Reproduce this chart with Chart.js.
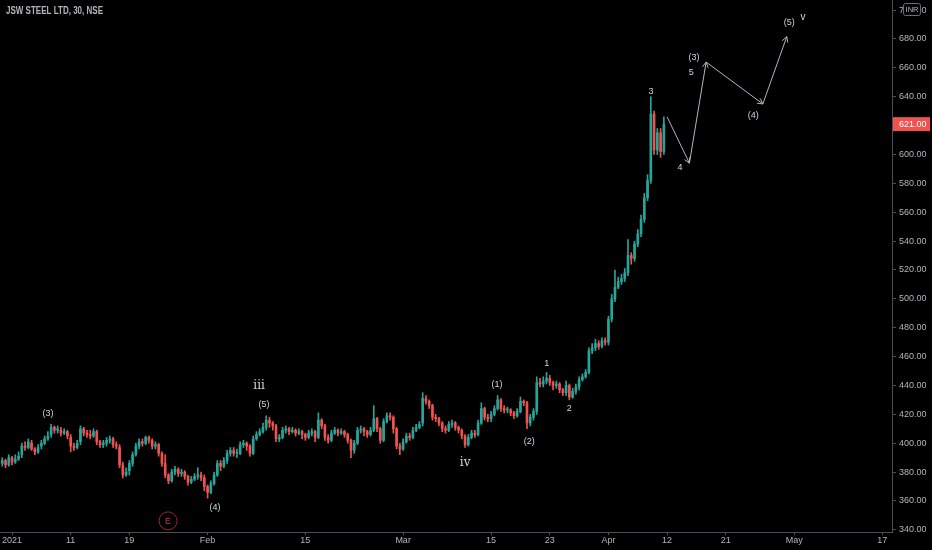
<!DOCTYPE html>
<html>
<head>
<meta charset="utf-8">
<script src="https://cdn.jsdelivr.net/npm/chart.js@4.4.1/dist/chart.umd.min.js"></script>
<style>
    html, body { margin: 0; padding: 0; background: #000; overflow: hidden; }
    #chart { display: block; }
</style>
</head>
<body>
<canvas id="chart" width="932" height="550"></canvas>
<script>
// JSW STEEL LTD, 30 min, NSE - 3 candles per trading day, first 3 are 31 Dec 2020
const firstSlot = -3;
const opens = [386,388,385,
    390,387,389, 392,398,397, 400,396,394, 398,400,403, 406,411,409, 409,407,408, 404,398,397, 401,410,407, 406,405,408, 401,399,400,
    402,403,399, 397,385,378, 381,386,392, 398,401,400, 404,402,398, 399,393,386, 378,374,380, 382,379,380, 377,373,375, 377,378,376,
    370,366,372, 378,386,384, 388,393,395, 393,393,399, 400,398,393, 403,406,408, 411,416,414, 412,403,404, 409,410,408, 409,407,408,
    406,404,407, 408,404,416, 412,404,402, 407,409,407, 408,406,402, 395,400,409, 410,408,406, 409,417,410, 402,415,419, 418,410,398,
    396,401,405, 404,409,411, 414,431,429, 426,418,417, 414,410,409, 413,414,411, 409,405,399, 404,407,406, 414,424,418,
    417,420,424, 430,424,423, 423,421,419, 422,429,428, 414,418,422, 442,441,443,
    445,442,440, 441,437,435, 440,432,436, 439,444,446, 449,464,466, 469,467,471,
    470,486,500, 508,512,514, 518,530,528, 538,545,555, 570,582,628, 603,615,602];
const highs = [390,389,392,
    391,392,394, 400,401,403, 402,397,399, 402,405,408, 413,412,412, 411,410,409, 406,400,402, 412,411,409, 409,410,409, 402,402,404,
    405,404,401, 399,387,383, 388,394,400, 403,403,405, 405,403,401, 400,394,392, 379,382,384, 383,382,381, 378,377,379, 383,380,378,
    371,374,380, 388,388,390, 395,397,397, 396,401,402, 401,399,405, 408,410,414, 419,418,415, 413,406,411, 412,411,411, 410,410,409,
    407,409,410, 409,421,417, 413,406,409, 411,410,410, 409,407,403, 402,411,412, 411,409,411, 426,418,411, 417,421,421, 419,411,400,
    403,407,407, 411,413,415, 435,433,430, 427,420,418, 415,412,415, 416,415,412, 410,406,406, 409,409,416, 428,425,420,
    422,426,433, 431,426,425, 424,422,424, 432,430,429, 420,424,446, 445,446,449,
    447,443,443, 442,438,443, 441,438,441, 446,448,451, 466,469,472, 471,473,473,
    488,503,520, 515,517,521, 541,532,540, 548,558,573, 586,640,630, 618,618,626];
const lows = [384,383,384,
    385,386,388, 390,395,396, 395,392,393, 396,399,402, 404,407,407, 405,406,403, 394,395,396, 399,405,404, 403,404,399, 397,397,398,
    400,397,396, 383,376,377, 378,384,391, 396,398,399, 400,396,396, 391,384,376, 372,373,378, 377,377,375, 371,372,374, 375,374,367,
    362,365,371, 377,381,383, 386,391,391, 390,392,397, 395,391,392, 402,405,407, 409,411,409, 401,401,403, 407,406,407, 405,406,403,
    402,403,405, 401,403,410, 402,400,401, 406,405,406, 404,400,390, 393,399,407, 405,404,405, 408,408,400, 401,414,416, 407,396,392,
    395,400,402, 403,408,410, 412,427,424, 416,415,412, 408,407,408, 411,409,407, 403,397,398, 403,404,405, 413,416,415,
    415,419,423, 422,421,421, 419,417,418, 421,426,410, 412,416,420, 439,439,441,
    440,437,438, 435,433,433, 430,431,434, 437,443,445, 448,462,464, 465,466,468,
    468,484,498, 507,510,512, 516,524,526, 536,543,553, 568,580,600, 600,598,600];
const closes = [388,385,390,
    387,389,391, 398,397,401, 396,394,397, 400,403,405, 411,409,410, 407,408,405, 398,397,400, 410,407,406, 405,408,401, 399,400,402,
    403,399,398, 385,378,380, 386,392,398, 401,400,404, 402,398,399, 393,386,378, 374,380,382, 379,380,377, 373,375,377, 378,376,370,
    366,372,378, 386,384,388, 393,395,393, 393,399,400, 398,393,403, 406,408,411, 416,414,412, 403,404,409, 410,408,409, 407,408,406,
    404,407,408, 404,416,412, 404,402,407, 409,407,408, 406,402,395, 400,409,410, 408,406,409, 417,410,402, 415,419,418, 410,398,396,
    401,405,404, 409,411,413, 431,429,426, 418,417,414, 410,409,413, 414,411,409, 405,399,404, 407,406,414, 424,418,417,
    420,424,430, 424,423,423, 421,419,422, 429,428,414, 418,422,442, 441,443,445,
    442,440,441, 437,435,440, 432,436,439, 444,446,449, 464,466,469, 467,471,470,
    486,500,508, 512,514,518, 530,528,538, 545,555,570, 582,628,603, 615,602,621];

// time axis in trading-day units (0 = 1 Jan 2021)
const dateTicks = [0, 6, 12, 20, 30, 40, 49, 55, 61, 67, 73, 80, 89];
const dateLabels = ['2021', '11', '19', 'Feb', '15', 'Mar', '15', '23', 'Apr', '12', '21', 'May', '17'];
const priceTicks = [340, 360, 380, 400, 420, 440, 460, 480, 500, 520, 540, 560, 580, 600, 620, 640, 660, 680, 700];

// projected wave path
const pathX = [67.0, 69.28, 70.99, 76.79, 79.24];
const pathY = [626, 594, 664, 635, 681.6];

// Elliott wave counts
const waveText = ['(3)', 'iii', '(5)', '(4)', 'iv', '(1)', '(2)', '1', '2', '3', '4', '(3)', '5', '(4)', '(5)', 'v'];
const waveX = [3.68, 25.27, 25.78, 20.77, 46.34, 49.6, 52.9, 54.7, 56.98, 65.36, 68.33, 69.76, 69.46, 75.8, 79.48, 80.9];
const waveY = [420.3, 439.7, 426.5, 355.2, 386.3, 441, 400.9, 454.9, 423.7, 643.3, 590.7, 667.5, 656.5, 626.7, 691.1, 695.2];
const eventX = 15.96, eventY = 346.2;

const UP = '#26a69a';
const DOWN = '#ef5350';
const TEXT = '#b2b5be';
const AXIS = '#4a4e59';
const FONT = '"Liberation Sans", Arial, sans-serif';

const candleX = closes.map((c, i) => (i + firstSlot) / 3);
const candleColor = (ctx) => closes[ctx.dataIndex] >= opens[ctx.dataIndex] ? UP : DOWN;

const overlay = {
    id: 'overlay',
    afterDatasetsDraw(chart) {
        const { ctx, scales: { x, y } } = chart;
        ctx.save();
        // arrow heads on every vertex of the projection
        ctx.strokeStyle = '#b2b5be';
        ctx.lineWidth = 1;
        for (let i = 1; i < pathX.length; i++) {
            const x0 = x.getPixelForValue(pathX[i - 1]), y0 = y.getPixelForValue(pathY[i - 1]);
            const x1 = x.getPixelForValue(pathX[i]), y1 = y.getPixelForValue(pathY[i]);
            const a = Math.atan2(y1 - y0, x1 - x0);
            ctx.beginPath();
            ctx.moveTo(x1 - 6 * Math.cos(a - 0.5), y1 - 6 * Math.sin(a - 0.5));
            ctx.lineTo(x1, y1);
            ctx.lineTo(x1 - 6 * Math.cos(a + 0.5), y1 - 6 * Math.sin(a + 0.5));
            ctx.stroke();
        }
        // wave labels (roman minor degree in serif)
        ctx.textAlign = 'center';
        ctx.textBaseline = 'middle';
        ctx.fillStyle = '#d1d4dc';
        waveText.forEach((t, i) => {
            const roman = t === 'iii' || t === 'iv';
            ctx.font = roman ? '12px "DejaVu Serif", serif' : (t === 'v' ? '10px ' : '9px ') + FONT;
            ctx.fillText(t, x.getPixelForValue(waveX[i]), y.getPixelForValue(waveY[i]));
        });
        // event marker
        const ex = x.getPixelForValue(eventX), ey = y.getPixelForValue(eventY);
        ctx.strokeStyle = '#a3232a';
        ctx.beginPath();
        ctx.arc(ex, ey, 9, 0, Math.PI * 2);
        ctx.stroke();
        ctx.fillStyle = '#c0393f';
        ctx.font = '9px ' + FONT;
        ctx.fillText('E', ex, ey + 0.5);
        ctx.restore();
    },
    afterDraw(chart) {
        const { ctx, scales: { y }, chartArea } = chart;
        ctx.save();
        // title
        ctx.font = '600 10px ' + FONT;
        ctx.fillStyle = TEXT;
        ctx.textBaseline = 'middle';
        const title = 'JSW STEEL LTD, 30, NSE';
        const w = ctx.measureText(title).width;
        ctx.translate(6, 11);
        ctx.scale(97 / w, 1);
        ctx.fillText(title, 0, 0);
        ctx.restore();

        ctx.save();
        // last price tag
        const last = closes[closes.length - 1];
        const py = y.getPixelForValue(last);
        ctx.fillStyle = DOWN;
        ctx.fillRect(chartArea.right + 1, py - 7, 37, 14);
        ctx.fillStyle = '#fff';
        ctx.font = '9px ' + FONT;
        ctx.textBaseline = 'middle';
        ctx.textAlign = 'left';
        ctx.fillText(last.toFixed(2), chartArea.right + 7, py + 0.5);
        // currency box over the top tick
        ctx.fillStyle = '#000';
        ctx.strokeStyle = '#6a6d78';
        ctx.beginPath();
        ctx.roundRect(903.5, 3.5, 17, 12, 2);
        ctx.fill();
        ctx.stroke();
        ctx.fillStyle = TEXT;
        ctx.font = '7.5px ' + FONT;
        ctx.textAlign = 'center';
        ctx.fillText('INR', 912, 10);
        ctx.restore();
    }
};

new Chart(document.getElementById('chart'), {
    type: 'bar',
    data: {
        datasets: [{
            label: 'wick',
            data: highs.map((h, i) => ({ x: candleX[i], y: [lows[i], h] })),
            backgroundColor: candleColor,
            barThickness: 1,
            grouped: false,
            order: 2
        }, {
            label: 'body',
            data: opens.map((o, i) => ({ x: candleX[i], y: [o, closes[i]] })),
            backgroundColor: candleColor,
            barThickness: 2,
            minBarLength: 1,
            grouped: false,
            order: 1
        }, {
            type: 'line',
            label: 'projection',
            data: pathX.map((v, i) => ({ x: v, y: pathY[i] })),
            borderColor: '#b2b5be',
            borderWidth: 1,
            pointRadius: 0,
            tension: 0,
            order: 0
        }]
    },
    options: {
        responsive: false,
        animation: false,
        layout: { padding: 0 },
        plugins: { legend: { display: false }, tooltip: { enabled: false } },
        scales: {
            x: {
                type: 'linear',
                min: -1.23,
                max: 90.0,
                offset: false,
                grid: { display: true, offset: false, drawOnChartArea: false, drawTicks: true, tickLength: 3, color: AXIS },
                border: { display: true, color: AXIS },
                afterBuildTicks: (s) => { s.ticks = dateTicks.map(v => ({ value: v })); },
                afterFit: (s) => { s.height = 18; s.paddingLeft = 0; s.paddingRight = 0; },
                ticks: {
                    autoSkip: false,
                    maxRotation: 0,
                    padding: 0,
                    color: TEXT,
                    font: { size: 9, family: FONT },
                    callback: (v) => dateLabels[dateTicks.indexOf(v)]
                }
            },
            y: {
                position: 'right',
                min: 338.5,
                max: 707,
                grid: { display: true, drawOnChartArea: false, drawTicks: true, tickLength: 4, color: AXIS },
                border: { display: true, color: AXIS },
                afterBuildTicks: (s) => { s.ticks = priceTicks.map(v => ({ value: v })); },
                afterFit: (s) => { s.width = 40; s.paddingTop = 0; s.paddingBottom = 0; },
                ticks: {
                    padding: 3,
                    color: TEXT,
                    font: { size: 9, family: FONT },
                    callback: (v) => v.toFixed(2)
                }
            }
        }
    },
    plugins: [overlay]
});
</script>
</body>
</html>
